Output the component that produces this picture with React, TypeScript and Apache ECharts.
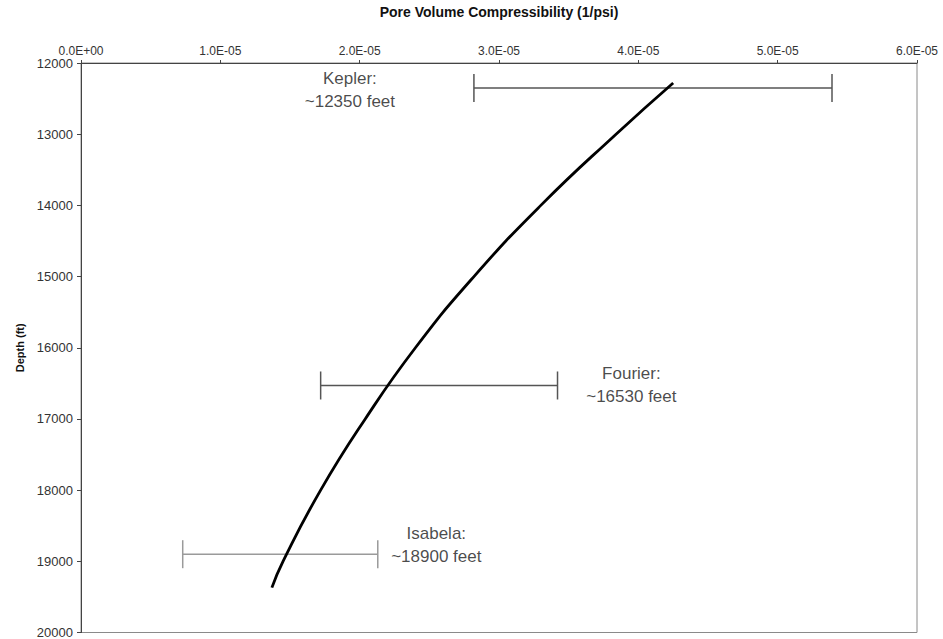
import React, { useEffect, useRef } from "react";
import * as echarts from "echarts";

// Compressibility trend curve (x: 1/psi, y: depth ft)
const curveDepth = [12280, 13000, 14000, 15000, 16000, 17000, 18000, 19000, 19370];
const curveComp = [4.25e-5, 3.84e-5, 3.3e-5, 2.82e-5, 2.4e-5, 2.04e-5, 1.72e-5, 1.45e-5, 1.37e-5];

// Field ranges
const fieldNames = ["Kepler", "Fourier", "Isabela"];
const fieldDepth = [12350, 16530, 18900];
const fieldLow = [2.82e-5, 1.72e-5, 0.73e-5];
const fieldHigh = [5.39e-5, 3.42e-5, 2.13e-5];
const fieldColor = ["#555555", "#555555", "#9a9a9a"];
// label anchor positions (data coords)
const labelX = [1.93e-5, 3.95e-5, 2.55e-5];
const labelDepth = [12375, 16530, 18765];

const fmt = (v: number) => {
  if (v === 0) return "0.0E+00";
  const e = Math.floor(Math.log10(Math.abs(v)) + 1e-9);
  const m = v / Math.pow(10, e);
  const sign = e < 0 ? "-" : "+";
  const ae = Math.abs(e);
  return m.toFixed(1) + "E" + sign + (ae < 10 ? "0" + ae : String(ae));
};

export default function App() {
  const ref = useRef<HTMLDivElement>(null);
  useEffect(() => {
    if (!ref.current) return;
    const chart = echarts.init(ref.current, undefined, { renderer: "svg" });
    const font = "Liberation Sans, Arial, sans-serif";
    chart.setOption({
      animation: false,
      backgroundColor: "#ffffff",
      grid: {
        left: 81,
        right: 26,
        top: 63,
        bottom: 6,
        show: true,
        borderColor: "#8a8a8a",
        borderWidth: 1,
      },
      xAxis: {
        type: "value",
        position: "top",
        min: 0,
        max: 6e-5,
        interval: 1e-5,
        name: "Pore Volume Compressibility (1/psi)",
        nameLocation: "middle",
        nameGap: 44,
        nameTextStyle: { fontFamily: font, fontWeight: "bold", fontSize: 14, color: "#111" },
        axisLine: { show: true, lineStyle: { color: "#444", width: 1 } },
        axisTick: { show: true, length: 3, lineStyle: { color: "#444" } },
        axisLabel: { formatter: (v: number) => fmt(v), fontFamily: font, fontSize: 12, color: "#333", margin: 6 },
        splitLine: { show: false },
      },
      yAxis: {
        type: "value",
        inverse: true,
        min: 12000,
        max: 20000,
        interval: 1000,
        name: "Depth (ft)",
        nameLocation: "middle",
        nameGap: 56,
        nameRotate: 90,
        nameTextStyle: { fontFamily: font, fontWeight: "bold", fontSize: 11, color: "#111" },
        axisLine: { show: true, lineStyle: { color: "#444", width: 1 } },
        axisTick: { show: true, length: 4, lineStyle: { color: "#444" } },
        axisLabel: { formatter: (v: number) => String(v), fontFamily: font, fontSize: 13, color: "#333", margin: 8 },
        splitLine: { show: false },
      },
      series: [
        {
          type: "custom",
          data: fieldNames.map((n, i) => [fieldLow[i], fieldHigh[i], fieldDepth[i], i]),
          encode: { x: [0, 1], y: 2 },
          renderItem: (params: any, api: any) => {
            const lo = api.coord([api.value(0), api.value(2)]);
            const hi = api.coord([api.value(1), api.value(2)]);
            const idx = api.value(3);
            const c = fieldColor[idx];
            const h = 14;
            const style = { stroke: c, lineWidth: 1.5 };
            return {
              type: "group",
              children: [
                { type: "line", shape: { x1: lo[0], y1: lo[1], x2: hi[0], y2: hi[1] }, style },
                { type: "line", shape: { x1: lo[0], y1: lo[1] - h, x2: lo[0], y2: lo[1] + h }, style },
                { type: "line", shape: { x1: hi[0], y1: hi[1] - h, x2: hi[0], y2: hi[1] + h }, style },
              ],
            };
          },
          z: 2,
        },
        {
          type: "line",
          data: curveDepth.map((d, i) => [curveComp[i], d]),
          smooth: 0.5,
          symbol: "none",
          lineStyle: { color: "#000", width: 2.8 },
          z: 3,
        },
        {
          type: "scatter",
          data: fieldNames.map((n, i) => [labelX[i], labelDepth[i], n, fieldDepth[i]]),
          symbolSize: 0,
          label: {
            show: true,
            position: "inside",
            formatter: (p: any) => p.value[2] + ":\n~" + p.value[3] + " feet",
            fontFamily: font,
            fontSize: 17,
            lineHeight: 23,
            color: "#1a1a1a",
            align: "center",
          },
          z: 4,
        },
      ],
    });
    return () => chart.dispose();
  }, []);
  return (
    <div
      ref={ref}
      style={{ position: "fixed", left: 0, top: 0, width: 943, height: 639 }}
    />
  );
}
